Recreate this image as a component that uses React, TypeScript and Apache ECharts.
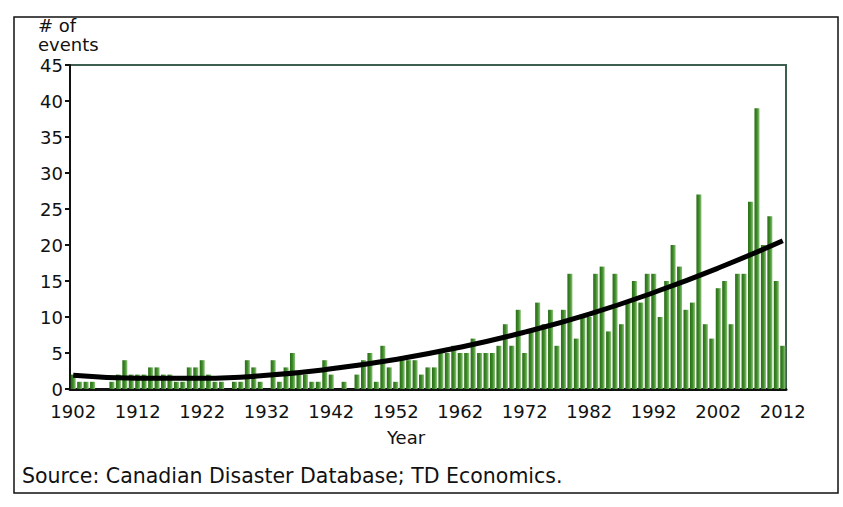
import React, { useEffect, useRef } from "react";
import * as echarts from "echarts";

const years: string[] = [];
for (let y = 1902; y <= 2012; y++) years.push(String(y));

const events: number[] = [
  2, 1, 1, 1, 0, 0, 1, 2, 4, 2,
  2, 2, 3, 3, 2, 2, 1, 1, 3, 3,
  4, 2, 1, 1, 0, 1, 1, 4, 3, 1,
  0, 4, 1, 3, 5, 2, 2, 1, 1, 4,
  2, 0, 1, 0, 2, 4, 5, 1, 6, 3,
  1, 4, 4, 4, 2, 3, 3, 5, 5, 6,
  5, 5, 7, 5, 5, 5, 6, 9, 6, 11,
  5, 8, 12, 9, 11, 6, 11, 16, 7, 10,
  10, 16, 17, 8, 16, 9, 12, 15, 12, 16,
  16, 10, 15, 20, 17, 11, 12, 27, 9, 7,
  14, 15, 9, 16, 16, 26, 39, 20, 24, 15,
  6,
];

const trendYears: string[] = ["1902", "1912", "1922", "1932", "1942", "1952", "1962", "1972", "1982", "1992", "2002", "2012"];
const trendValues: number[] = [1.9, 1.5, 1.5, 1.9, 2.8, 4.1, 5.8, 7.9, 10.4, 13.4, 16.8, 20.6];

const FONT = "DejaVu Sans";

export default function App() {
  const ref = useRef<HTMLDivElement>(null);
  useEffect(() => {
    document.body.style.margin = "0";
    if (!ref.current) return;
    const chart = echarts.init(ref.current, null, { renderer: "svg" });
    chart.setOption({
      animation: false,
      backgroundColor: "#ffffff",
      grid: {
        left: 70,
        right: 57,
        top: 65,
        bottom: 118,
        show: true,
        borderColor: "#3c5f50",
        borderWidth: 2,
        backgroundColor: "transparent",
      },
      xAxis: {
        type: "category",
        data: years,
        axisLine: { show: true, lineStyle: { color: "#111", width: 3 } },
        axisTick: { show: false },
        axisLabel: {
          interval: 9,
          color: "#111",
          fontFamily: FONT,
          fontSize: 18,
          margin: 13,
        },
      },
      yAxis: {
        type: "value",
        min: 0,
        max: 45,
        interval: 5,
        axisLine: { show: true, lineStyle: { color: "#111", width: 2 } },
        axisTick: { show: true, length: 5, lineStyle: { color: "#111", width: 2 } },
        splitLine: { show: false },
        axisLabel: { color: "#111", fontFamily: FONT, fontSize: 18, margin: 7 },
      },
      series: [
        {
          type: "bar",
          data: events,
          barCategoryGap: "22%",
          itemStyle: {
            color: new echarts.graphic.LinearGradient(0, 0, 1, 0, [
              { offset: 0, color: "#2a6c17" },
              { offset: 0.5, color: "#3d8a28" },
              { offset: 1, color: "#8fc57c" },
            ]),
          },
          z: 2,
        },
        {
          type: "line",
          data: trendYears.map((y, i) => [y, trendValues[i]]),
          smooth: true,
          symbol: "none",
          lineStyle: { color: "#000", width: 5 },
          z: 5,
        },
      ],
      graphic: [
        {
          type: "rect",
          shape: { x: 14, y: 17, width: 824, height: 476 },
          style: { fill: "none", stroke: "#111", lineWidth: 1.5 },
          z: 0,
        },
        {
          type: "text",
          left: 38,
          top: 16,
          style: { text: "# of", font: `18px "${FONT}"`, fill: "#111" },
        },
        {
          type: "text",
          left: 38,
          top: 35,
          style: { text: "events", font: `18px "${FONT}"`, fill: "#111" },
        },
        {
          type: "text",
          x: 406,
          y: 437,
          style: {
            text: "Year",
            font: `18px "${FONT}"`,
            fill: "#111",
            align: "center",
            verticalAlign: "middle",
          },
        },
        {
          type: "text",
          x: 22,
          y: 476,
          style: {
            text: "Source: Canadian Disaster Database; TD Economics.",
            font: `20.5px "${FONT}"`,
            fill: "#111",
            verticalAlign: "middle",
          },
        },
      ],
    });
    return () => chart.dispose();
  }, []);
  return <div ref={ref} style={{ width: 843, height: 507 }} />;
}
